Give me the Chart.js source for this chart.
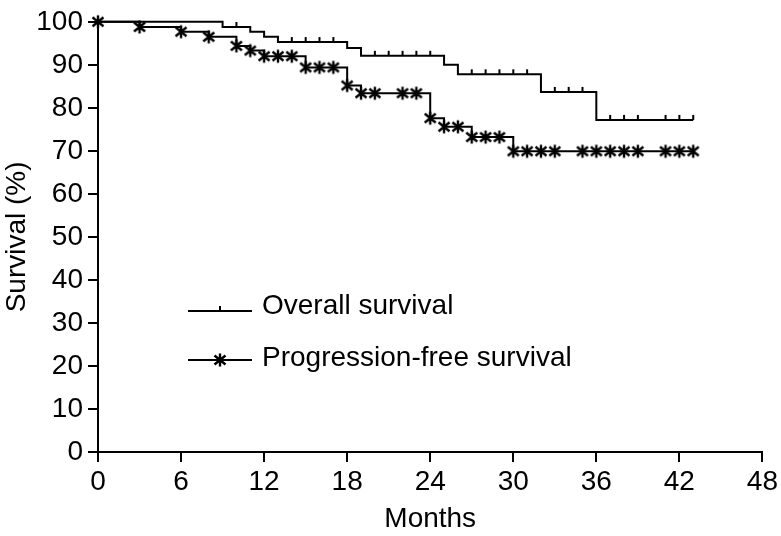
<!DOCTYPE html>
<html>
<head>
<meta charset="utf-8">
<script src="https://cdn.jsdelivr.net/npm/chart.js@4"></script>
<style>
  html, body { margin: 0; padding: 0; background: #fff; }
</style>
</head>
<body>
<canvas id="myChart" width="781" height="536"></canvas>
<script>
// Kaplan-Meier steps: month of each drop and survival (%) after it
const osMonths = [0, 9, 11, 12, 13, 18, 19, 25, 26, 32, 36, 43];
const osSurvival = [100, 98.8, 97.7, 96.5, 95.3, 93.9, 92.1, 90.0, 87.8, 83.7, 77.2, 77.2];
const osCensored = [10, 14, 15, 16, 17, 20, 21, 22, 23, 24, 27, 28, 29, 30, 31, 33, 34, 35, 37, 38, 39, 41, 42, 43];

const pfsMonths = [0, 3, 6, 8, 10, 11, 12, 15, 18, 19, 24, 25, 27, 30, 43];
const pfsSurvival = [100, 98.8, 97.7, 96.5, 94.4, 93.3, 92.0, 89.4, 85.2, 83.4, 77.6, 75.6, 73.2, 69.9, 69.9];
const pfsMarks = [0, 3, 6, 8, 10, 11, 12, 13, 14, 15, 16, 17, 18, 19, 20, 22, 23, 24, 25, 26, 27, 28, 29, 30, 31, 32, 33, 35, 36, 37, 38, 39, 41, 42, 43];

const xTicks = [0, 6, 12, 18, 24, 30, 36, 42, 48];
const labels = ['Overall survival', 'Progression-free survival'];

const FONT = '"Liberation Sans", Arial, Helvetica, sans-serif';

function toPoints(xs, ys) {
    return xs.map((x, i) => ({ x: x, y: ys[i] }));
}
// value of the step curve at month t
function stepValue(xs, ys, t) {
    let v = ys[0];
    for (let i = 0; i < xs.length; i++) {
        if (xs[i] <= t) v = ys[i];
    }
    return v;
}
function marks(xs, ys, times) {
    return times.map(t => ({ x: t, y: stepValue(xs, ys, t) }));
}

// small upward tick for censored OS
const tickImg = document.createElement('canvas');
tickImg.width = 4; tickImg.height = 12;
(function () {
    const c = tickImg.getContext('2d');
    c.strokeStyle = '#000';
    c.lineWidth = 2;
    c.beginPath();
    c.moveTo(2, 1);
    c.lineTo(2, 6);
    c.stroke();
})();

// asterisk for PFS
const starImg = document.createElement('canvas');
starImg.width = 16; starImg.height = 16;
(function () {
    const c = starImg.getContext('2d');
    c.strokeStyle = '#000';
    c.lineWidth = 2.4;
    c.beginPath();
    c.moveTo(8, 1.5); c.lineTo(8, 14.5);
    c.moveTo(2.5, 3.5); c.lineTo(13.5, 12.5);
    c.moveTo(13.5, 3.5); c.lineTo(2.5, 12.5);
    c.stroke();
})();

const legendPlugin = {
    id: 'kmLegend',
    afterDraw(chart) {
        const c = chart.ctx;
        c.save();
        c.strokeStyle = '#000';
        c.lineWidth = 2;
        c.beginPath();
        c.moveTo(188, 311); c.lineTo(252, 311);
        c.moveTo(188, 360); c.lineTo(252, 360);
        c.stroke();
        c.drawImage(tickImg, 218, 305);
        c.drawImage(starImg, 212, 352);
        c.fillStyle = '#000';
        c.font = '28px ' + FONT;
        c.textBaseline = 'middle';
        c.fillText(labels[0], 262, 306);
        c.fillText(labels[1], 262, 358);
        c.restore();
    }
};

const ctx = document.getElementById('myChart');

const myChart = new Chart(ctx, {
    type: 'scatter',
    data: {
        datasets: [
            {
                label: labels[0],
                data: toPoints(osMonths, osSurvival),
                showLine: true,
                stepped: 'before',
                borderColor: '#000',
                borderWidth: 2,
                pointRadius: 0,
                clip: false
            }, {
                label: labels[0] + ' censored',
                data: marks(osMonths, osSurvival, osCensored),
                showLine: false,
                pointStyle: tickImg,
                clip: false
            }, {
                label: labels[1],
                data: toPoints(pfsMonths, pfsSurvival),
                showLine: true,
                stepped: 'before',
                borderColor: '#000',
                borderWidth: 2,
                pointRadius: 0,
                clip: false
            }, {
                label: labels[1] + ' marks',
                data: marks(pfsMonths, pfsSurvival, pfsMarks),
                showLine: false,
                pointStyle: starImg,
                clip: false
            }
        ]
    },
    options: {
        responsive: false,
        animation: false,
        layout: { padding: { top: 7, right: 13, left: 0, bottom: 0 } },
        plugins: {
            legend: { display: false },
            tooltip: { enabled: false }
        },
        scales: {
            x: {
                type: 'linear',
                min: 0,
                max: 48,
                afterBuildTicks: (s) => { s.ticks = xTicks.map(v => ({ value: v })); },
                afterFit: (s) => { s.height = 84; },
                ticks: {
                    color: '#000',
                    font: { family: FONT, size: 28 },
                    padding: 3,
                    maxRotation: 0
                },
                grid: {
                    drawOnChartArea: false,
                    drawTicks: true,
                    tickLength: 10,
                    color: '#000',
                    lineWidth: 2
                },
                border: { color: '#000', width: 2 },
                title: {
                    display: true,
                    text: 'Months',
                    color: '#000',
                    font: { family: FONT, size: 28 },
                    padding: { top: 0, bottom: 0 }
                }
            },
            y: {
                min: 0,
                max: 100,
                afterFit: (s) => { s.width = 98; },
                ticks: {
                    stepSize: 10,
                    color: '#000',
                    font: { family: FONT, size: 28 },
                    padding: 5
                },
                grid: {
                    drawOnChartArea: false,
                    drawTicks: true,
                    tickLength: 10,
                    color: '#000',
                    lineWidth: 2
                },
                border: { color: '#000', width: 2 },
                title: {
                    display: true,
                    text: 'Survival (%)',
                    color: '#000',
                    font: { family: FONT, size: 28 },
                    padding: { top: 0, bottom: 0 }
                }
            }
        }
    },
    plugins: [legendPlugin]
});
</script>
</body>
</html>
